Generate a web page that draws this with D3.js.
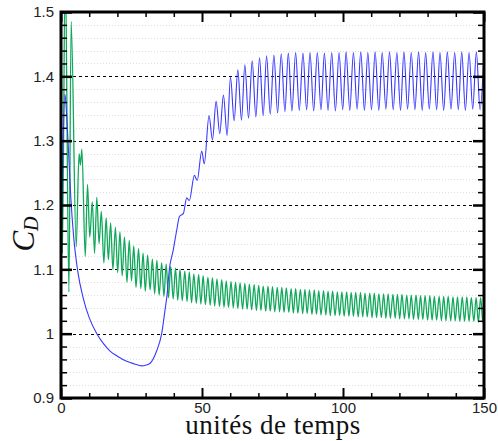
<!DOCTYPE html>
<html><head><meta charset="utf-8">
<script src="https://cdn.jsdelivr.net/npm/d3@7"></script>
<style>body{margin:0;background:#fff}</style>
</head><body><svg id="c" width="498" height="441"></svg>
<script>
// ---- data (time, C_D) ----
const blueSeries = [
[0,1.12],[0.6,1.27],[1.4,1.372],[2.0,1.34],[2.6,1.29],[3.5,1.21],[4.5,1.15],[5.9,1.098],[7.9,1.055],[10.0,1.025],
[12.7,1.000],[15.0,0.985],[17.4,0.973],[20.0,0.965],[23.3,0.957],[26.0,0.953],[28.6,0.950],[30.0,0.951],[31.6,0.954],[33.9,0.973],
[35.7,1.000],[36.9,1.037],[37.6,1.06],[38.4,1.099],[39.8,1.130],[41.0,1.160],[42.0,1.182],[43.4,1.187],[44.6,1.211],[45.5,1.207],
[47.3,1.246],[48.3,1.238],[49.9,1.284],[50.8,1.264],[52.5,1.339],[53.7,1.301],[55.0,1.361],[56.3,1.311],[57.6,1.371],[58.9,1.308],
[60.1,1.399],[61.4,1.331],[62.7,1.410],[64.0,1.332],[65.2,1.418],[66.5,1.335],[67.8,1.424],[69.1,1.337],[70.4,1.429],[71.7,1.339],
[72.9,1.432],[74.2,1.341],[75.5,1.433],[76.8,1.343],[78.1,1.435],[79.4,1.345],[80.6,1.436],[81.9,1.346],[83.2,1.437],[84.5,1.347],
[85.8,1.436],[87.1,1.348],[88.3,1.437],[89.6,1.346],[90.9,1.437],[92.2,1.348],[93.4,1.436],[94.7,1.347],[96.0,1.437],[97.3,1.346],
[98.6,1.437],[99.9,1.348],[101.1,1.438],[102.4,1.347],[103.7,1.437],[105.0,1.349],[106.3,1.438],[107.6,1.347],[108.8,1.437],[110.1,1.348],
[111.4,1.438],[112.7,1.347],[113.9,1.437],[115.2,1.349],[116.5,1.438],[117.8,1.348],[119.1,1.437],[120.4,1.347],[121.6,1.438],[122.9,1.349],
[124.2,1.437],[125.5,1.348],[126.8,1.438],[128.1,1.347],[129.3,1.437],[130.6,1.349],[131.9,1.438],[133.2,1.348],[134.4,1.437],[135.7,1.347],
[137.0,1.438],[138.3,1.349],[139.6,1.437],[140.9,1.348],[142.1,1.438],[143.4,1.347],[144.7,1.437],[146.0,1.349],[147.3,1.438],[148.6,1.348],
[150,1.436]];

const greenSeries = [
[0,1.58],[0.5,1.125],[1.5,1.58],[2.8,1.065],[3.6,1.485],[5.4,1.135],[6.4,1.28],[6.9,1.262],[7.4,1.287],
[8.6,1.120],[9.4,1.232],[10.2,1.150],[11.1,1.205],[11.9,1.125],[12.7,1.212],[13.5,1.140],[14.3,1.190],[15.2,1.110],[16.0,1.180],
[16.8,1.115],[17.6,1.172],[18.4,1.100],[19.3,1.165],[20.1,1.095],[20.9,1.158],[21.7,1.090],[22.5,1.150],[23.4,1.080],[24.2,1.145],
[25.0,1.082],[25.8,1.136],[26.6,1.072],[27.5,1.132],[28.3,1.070],[29.1,1.125],[29.9,1.066],[30.7,1.122],[31.6,1.068],[32.4,1.116],
[33.2,1.062],[34.0,1.114],[34.8,1.060],[35.7,1.110],[36.5,1.058],[37.3,1.108],[38.1,1.056],[38.9,1.104],[39.8,1.054],[40.6,1.102],
[41.4,1.052],[42.2,1.100],[43.0,1.051],[43.9,1.097],[44.7,1.050],[45.5,1.096],[46.3,1.048],[47.1,1.093],[48.0,1.047],[48.8,1.092],
[49.6,1.046],[50.4,1.090],[51.2,1.045],[52.1,1.088],[52.9,1.044],[53.7,1.087],[54.5,1.043],[55.3,1.085],[56.2,1.042],[57.0,1.084],
[57.8,1.041],[58.6,1.082],[59.4,1.041],[60.3,1.081],[61.1,1.040],[61.9,1.080],[62.7,1.039],[63.5,1.079],[64.4,1.038],[65.2,1.078],
[66.0,1.038],[66.8,1.077],[67.6,1.037],[68.5,1.076],[69.3,1.036],[70.1,1.075],[70.9,1.036],[71.7,1.074],[72.6,1.035],[73.4,1.074],
[74.2,1.035],[75.0,1.073],[75.8,1.034],[76.7,1.072],[77.5,1.034],[78.3,1.072],[79.1,1.033],[79.9,1.071],[80.8,1.033],[81.6,1.070],
[82.4,1.032],[83.2,1.070],[84.0,1.032],[84.9,1.069],[85.7,1.031],[86.5,1.069],[87.3,1.031],[88.1,1.068],[89.0,1.030],[89.8,1.068],
[90.6,1.030],[91.4,1.067],[92.2,1.029],[93.1,1.067],[93.9,1.029],[94.7,1.066],[95.5,1.028],[96.3,1.066],[97.2,1.028],[98.0,1.065],
[98.8,1.028],[99.6,1.065],[100.4,1.027],[101.3,1.065],[102.1,1.027],[102.9,1.064],[103.7,1.027],[104.5,1.064],[105.4,1.026],[106.2,1.064],
[107.0,1.026],[107.8,1.063],[108.6,1.026],[109.5,1.063],[110.3,1.025],[111.1,1.063],[111.9,1.025],[112.7,1.062],[113.6,1.025],[114.4,1.062],
[115.2,1.024],[116.0,1.062],[116.8,1.024],[117.7,1.061],[118.5,1.024],[119.3,1.061],[120.1,1.023],[120.9,1.061],[121.8,1.023],[122.6,1.060],
[123.4,1.023],[124.2,1.060],[125.0,1.022],[125.9,1.060],[126.7,1.022],[127.5,1.059],[128.3,1.022],[129.1,1.059],[130.0,1.021],[130.8,1.059],
[131.6,1.021],[132.4,1.058],[133.2,1.021],[134.1,1.058],[134.9,1.020],[135.7,1.058],[136.5,1.020],[137.3,1.058],[138.2,1.020],[139.0,1.057],
[139.8,1.020],[140.6,1.057],[141.4,1.019],[142.3,1.057],[143.1,1.019],[143.9,1.057],[144.7,1.019],[145.5,1.056],[146.4,1.019],[147.2,1.056],
[148.0,1.018],[148.8,1.056],[149.6,1.018],[150.0,1.040]];

const xMajorTicks = [0, 50, 100, 150];
const xTickLabels = ["0", "50", "100", "150"];
const xMinorTicks = [10, 20, 30, 40, 60, 70, 80, 90, 110, 120, 130, 140];
const yMajorTicks = [0.9, 1.0, 1.1, 1.2, 1.3, 1.4, 1.5];
const yTickLabels = ["0.9", "1", "1.1", "1.2", "1.3", "1.4", "1.5"];
const yMinorTicks = [0.92,0.94,0.96,0.98,1.02,1.04,1.06,1.08,1.12,1.14,1.16,1.18,1.22,1.24,1.26,1.28,1.32,1.34,1.36,1.38,1.42,1.44,1.46,1.48];
const yGridMajor = [1.0, 1.1, 1.2, 1.3, 1.4];
const xTitle = "unités de temps";

// ---- drawing ----
const L = 61, R = 484, T = 12, B = 398;
const svg = d3.select("#c");
const x = d3.scaleLinear().domain([0, 150]).range([L, R]);
const y = d3.scaleLinear().domain([0.9, 1.5]).range([B, T]);

svg.append("defs").append("clipPath").attr("id", "clip")
  .append("rect").attr("x", L).attr("y", T).attr("width", R - L).attr("height", B - T);

// faint minor grid
svg.append("g").selectAll("line").data(yMinorTicks).join("line")
  .attr("x1", L).attr("x2", R).attr("y1", d => Math.round(y(d)) + 0.5).attr("y2", d => Math.round(y(d)) + 0.5)
  .attr("stroke", "#e0e0e0").attr("stroke-width", 1).attr("stroke-dasharray", "1,2");
// major dashed grid
svg.append("g").selectAll("line").data(yGridMajor).join("line")
  .attr("x1", L).attr("x2", R).attr("y1", d => Math.round(y(d)) + 0.5).attr("y2", d => Math.round(y(d)) + 0.5)
  .attr("stroke", "#000").attr("stroke-width", 1).attr("stroke-dasharray", "3,3");

const line = d3.line().x(d => x(d[0])).y(d => y(d[1])).curve(d3.curveMonotoneX);
const plot = svg.append("g").attr("clip-path", "url(#clip)");
plot.append("path").datum(greenSeries).attr("d", line)
  .attr("fill", "none").attr("stroke", "#10a85a").attr("stroke-width", 1.3);
plot.append("path").datum(blueSeries).attr("d", line)
  .attr("fill", "none").attr("stroke", "#3838ff").attr("stroke-width", 1.1);

function styleAxis(g, w) {
  g.select(".domain").remove();
  g.selectAll(".tick line").attr("stroke", "#000").attr("stroke-width", w);
  g.selectAll("text").attr("font-family", "'Liberation Sans', Arial, sans-serif")
    .attr("font-size", 15).attr("fill", "#222");
}
// Y axes
svg.append("g").attr("transform", `translate(${L},0)`)
  .call(d3.axisLeft(y).tickValues(yMajorTicks).tickSize(-11).tickPadding(7).tickFormat((d, i) => yTickLabels[i]))
  .call(g => styleAxis(g, 2.5));
svg.append("g").attr("transform", `translate(${L},0)`)
  .call(d3.axisLeft(y).tickValues(yMinorTicks).tickSize(-6).tickFormat(""))
  .call(g => styleAxis(g, 1.5));
svg.append("g").attr("transform", `translate(${R},0)`)
  .call(d3.axisRight(y).tickValues(yMajorTicks).tickSize(-11).tickFormat(""))
  .call(g => styleAxis(g, 2.5));
svg.append("g").attr("transform", `translate(${R},0)`)
  .call(d3.axisRight(y).tickValues(yMinorTicks).tickSize(-6).tickFormat(""))
  .call(g => styleAxis(g, 1.5));
// X axes
svg.append("g").attr("transform", `translate(0,${B})`)
  .call(d3.axisBottom(x).tickValues(xMajorTicks).tickSize(-10).tickPadding(4).tickFormat((d, i) => xTickLabels[i]))
  .call(g => styleAxis(g, 2));
svg.append("g").attr("transform", `translate(0,${B})`)
  .call(d3.axisBottom(x).tickValues(xMinorTicks).tickSize(-5).tickFormat(""))
  .call(g => styleAxis(g, 1.5));
svg.append("g").attr("transform", `translate(0,${T})`)
  .call(d3.axisTop(x).tickValues(xMajorTicks).tickSize(-10).tickFormat(""))
  .call(g => styleAxis(g, 2));
svg.append("g").attr("transform", `translate(0,${T})`)
  .call(d3.axisTop(x).tickValues(xMinorTicks).tickSize(-5).tickFormat(""))
  .call(g => styleAxis(g, 1.5));

// frame
svg.append("rect").attr("x", L).attr("y", T).attr("width", R - L).attr("height", B - T)
  .attr("fill", "none").attr("stroke", "#000").attr("stroke-width", 3);

// titles
svg.append("text").attr("x", 273).attr("y", 434).attr("text-anchor", "middle")
  .attr("font-family", "'Liberation Serif', 'Times New Roman', serif").attr("font-size", 27)
  .attr("letter-spacing", 0.5).attr("fill", "#111").text(xTitle);
const yt = svg.append("text").attr("transform", "translate(34,234) rotate(-90)")
  .attr("text-anchor", "middle").attr("font-family", "'Liberation Serif', 'Times New Roman', serif")
  .attr("font-style", "italic").attr("fill", "#111");
yt.append("tspan").attr("font-size", 31).text("C");
yt.append("tspan").attr("font-size", 20).attr("dy", 4).text("D");
</script></body></html>
